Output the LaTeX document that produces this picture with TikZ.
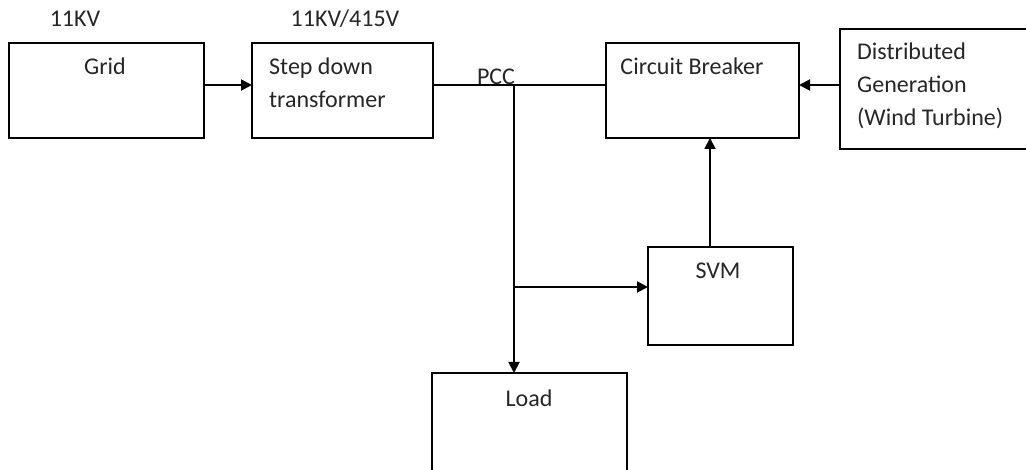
\documentclass[tikz,border=0pt]{standalone}
\usepackage{fontspec}
\setmainfont{Carlito}
\usetikzlibrary{arrows.meta}
\begin{document}
\begin{tikzpicture}[x=1pt,y=-1pt,
  box/.style={draw,line width=1.9pt,minimum width=#1,inner sep=0pt,outer sep=0pt},
  lbl/.style={font=\fontsize{24}{33}\selectfont,inner sep=0pt,text=black!85},
  wire/.style={line width=1.9pt},
  arr/.style={wire,-{Triangle[length=11pt,width=11pt]}}]
\useasboundingbox (0,0) rectangle (1026,470);
\node[box=195pt,minimum height=95pt] (grid) at (106.5,90.5) {};
\node[box=181pt,minimum height=95pt] (step) at (342.5,90.5) {};
\node[box=193pt,minimum height=95pt] (cb) at (702.5,90.5) {};
\node[box=190pt,minimum height=120pt] (dg) at (935,89) {};
\node[box=145pt,minimum height=98pt] (svm) at (720.5,296) {};
\node[box=195pt,minimum height=107pt] (load) at (529.5,426.5) {};
\node[lbl] (v1) at (75,19) {11KV};
\node[lbl] (v2) at (345,19) {11KV/415V};
\node[lbl] (tg) at (105,66) {Grid};
\node[lbl,anchor=west,align=left] (ts) at (269,83) {Step down\\transformer};
\node[lbl] (tp) at (496,77) {PCC};
\node[lbl] (tc) at (692,66) {Circuit Breaker};
\node[lbl,anchor=west,align=left] (td) at (857,86) {Distributed\\Generation\\(Wind Turbine)};
\node[lbl] (tv) at (718,271) {SVM};
\node[lbl] (tl) at (529,398) {Load};
\coordinate (pcc) at (514,85);
\coordinate (br) at (514,287);
\coordinate (svtop) at (710,247);
\draw[arr] (grid.east |- pcc) -- (step.west |- pcc);
\draw[wire] (step.east |- pcc) -- (cb.west |- pcc);
\draw[arr] (dg.west |- pcc) -- (cb.east |- pcc);
\draw[arr] (pcc) -- (pcc |- load.north);
\draw[arr] (br) -- (br -| svm.west);
\draw[arr] (svtop) -- (svtop |- cb.south);
\end{tikzpicture}
\end{document}
